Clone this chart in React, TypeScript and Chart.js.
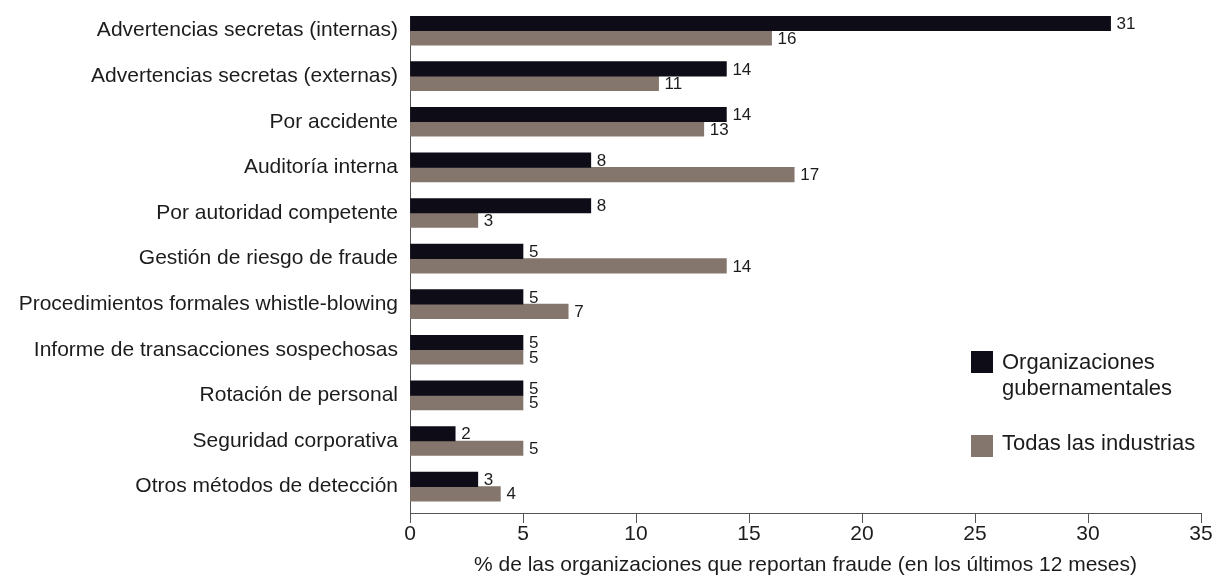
import { useEffect, useRef } from "react";
import { Chart, registerables } from "chart.js";

Chart.register(...registerables);

// Detection methods (top to bottom)
const categories = [
  "Advertencias secretas (internas)",
  "Advertencias secretas (externas)",
  "Por accidente",
  "Auditoría interna",
  "Por autoridad competente",
  "Gestión de riesgo de fraude",
  "Procedimientos formales whistle-blowing",
  "Informe de transacciones sospechosas",
  "Rotación de personal",
  "Seguridad corporativa",
  "Otros métodos de detección",
];

// % of organisations reporting fraud, per detection method
const governmentValues = [31, 14, 14, 8, 8, 5, 5, 5, 5, 2, 3];
const allIndustriesValues = [16, 11, 13, 17, 3, 14, 7, 5, 5, 5, 4];

const seriesNames = ["Organizaciones gubernamentales", "Todas las industrias"];
const legendLines = [["Organizaciones", "gubernamentales"], ["Todas las industrias"]];

const xAxisTitle = "% de las organizaciones que reportan fraude (en los últimos 12 meses)";
const xMin = 0;
const xMax = 35;
const xStep = 5;

const FONT = '"Liberation Sans", Arial, Helvetica, sans-serif';
const DARK = "#0e0c17";
const TAUPE = "#85766d";
const TEXT = "#1c1c1c";
const AXIS = "#555555";

const valueLabels = {
  id: "valueLabels",
  afterDatasetsDraw(chart: any) {
    const ctx = chart.ctx;
    ctx.save();
    ctx.font = `17px ${FONT}`;
    ctx.fillStyle = TEXT;
    ctx.textAlign = "left";
    ctx.textBaseline = "middle";
    chart.data.datasets.forEach((ds: any, di: number) => {
      const meta = chart.getDatasetMeta(di);
      meta.data.forEach((bar: any, i: number) => {
        const v = ds.data[i].x;
        ctx.fillText(String(v), bar.x + 6, bar.y + 1);
      });
    });
    ctx.restore();
  },
};

export default function App() {
  const canvasRef = useRef<HTMLCanvasElement | null>(null);

  useEffect(() => {
    if (!canvasRef.current) return;
    const toPoints = (vals: number[]) => vals.map((v, i) => ({ x: v, y: i }));
    const chart = new Chart(canvasRef.current, {
      type: "bar",
      data: {
        datasets: [
          {
            label: seriesNames[0],
            data: toPoints(governmentValues),
            backgroundColor: DARK,
            borderWidth: 0,
            barThickness: 14.5,
          },
          {
            label: seriesNames[1],
            data: toPoints(allIndustriesValues),
            backgroundColor: TAUPE,
            borderWidth: 0,
            barThickness: 14.5,
          },
        ],
      },
      plugins: [valueLabels],
      options: {
        indexAxis: "y",
        animation: false,
        responsive: false,
        maintainAspectRatio: false,
        layout: { padding: { top: 16, right: 25, bottom: 0, left: 0 } },
        plugins: {
          legend: { display: false },
          tooltip: { enabled: false },
        },
        scales: {
          y: {
            type: "linear",
            reverse: true,
            offset: false,
            min: -0.32,
            max: 10.58,
            grid: { display: false, drawTicks: false, offset: false },
            border: { display: true, color: AXIS, width: 1 },
            afterBuildTicks: (axis: any) => {
              axis.ticks = categories.map((_, i) => ({ value: i }));
            },
            afterFit: (scale: any) => {
              scale.width = 410;
              scale.paddingTop = 0;
              scale.paddingBottom = 0;
            },
            ticks: {
              padding: 12,
              color: TEXT,
              font: { family: FONT, size: 21 },
              callback: (v: any) => categories[v] ?? "",
            },
          },
          x: {
            type: "linear",
            min: xMin,
            max: xMax,
            grid: {
              display: true,
              drawOnChartArea: false,
              drawTicks: true,
              tickLength: 10,
              color: AXIS,
            },
            border: { display: true, color: AXIS, width: 1 },
            afterFit: (scale: any) => {
              scale.height = 64;
            },
            ticks: {
              stepSize: xStep,
              padding: 0.5,
              color: TEXT,
              font: { family: FONT, size: 21, lineHeight: 1 },
            },
            title: {
              display: true,
              text: xAxisTitle,
              color: TEXT,
              font: { family: FONT, size: 21, lineHeight: 1 },
              padding: { top: 0, bottom: 1.5 },
            },
          },
        },
      },
    } as any);
    return () => chart.destroy();
  }, []);

  const legendItems = [
    { color: DARK, squareTop: 351, textTop: 348.7 },
    { color: TAUPE, squareTop: 435, textTop: 430.1 },
  ];

  return (
    <div
      style={{
        position: "fixed",
        left: 0,
        top: 0,
        width: 1226,
        height: 577,
        background: "#ffffff",
        overflow: "hidden",
      }}
    >
      <canvas ref={canvasRef} width={1226} height={577} style={{ display: "block" }} />
      {legendItems.map((item, i) => (
        <div key={seriesNames[i]}>
          <div
            style={{
              position: "absolute",
              left: 971,
              top: item.squareTop,
              width: 22,
              height: 22,
              background: item.color,
            }}
          />
          <div
            style={{
              position: "absolute",
              left: 1002,
              top: item.textTop,
              font: `22px/26px ${FONT}`,
              color: TEXT,
              whiteSpace: "nowrap",
            }}
          >
            {legendLines[i].map((line) => (
              <div key={line}>{line}</div>
            ))}
          </div>
        </div>
      ))}
    </div>
  );
}
